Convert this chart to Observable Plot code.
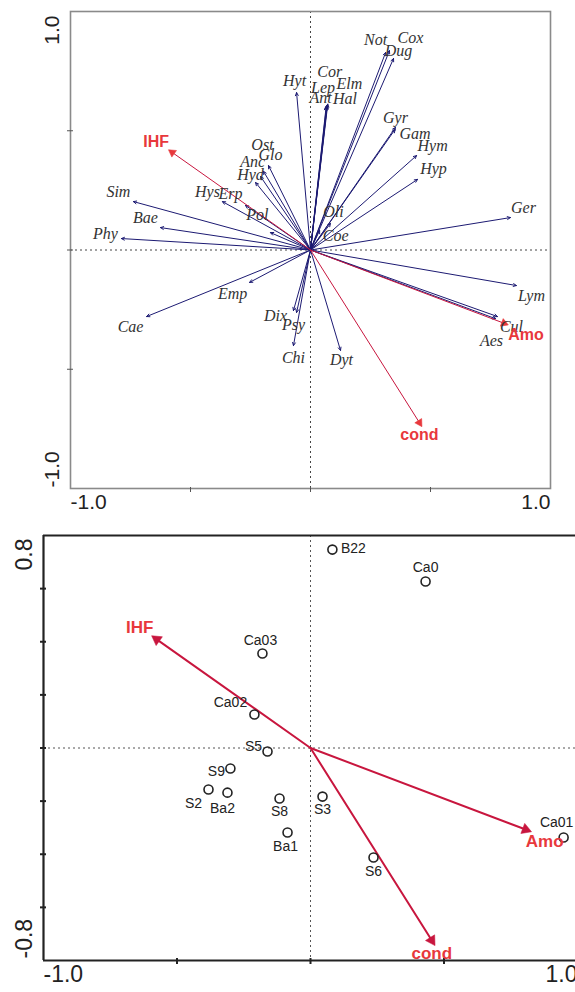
<!DOCTYPE html>
<html><head><meta charset="utf-8">
<script src="https://cdn.jsdelivr.net/npm/d3@7"></script>
<script src="https://cdn.jsdelivr.net/npm/@observablehq/plot@0.6"></script>
<style>
body{margin:0;background:#fff;}
#chart{width:575px;}
#chart svg{display:block;overflow:visible;}
</style></head><body><div id="chart"></div>
<script>
// ---- Data: species scores (top biplot) ----
const speciesNames = ["Sim","Bae","Phy","Hys","Erp","Pol","Hyd","Anc","Ost","Glo","Hyt","Ant","Cor","Lep","Elm","Hal","Not","Cox","Dug","Gyr","Gam","Hym","Hyp","Ger","Oli","Coe","Emp","Cae","Dix","Psy","Chi","Dyt","Lym","Cul","Aes"];
const speciesX = [-0.738,-0.625,-0.788,-0.367,-0.271,-0.167,-0.229,-0.208,-0.196,-0.175,-0.058,0.067,0.072,0.065,0.070,0.069,0.313,0.329,0.346,0.354,0.352,0.442,0.446,0.833,0.083,0.038,-0.254,-0.683,-0.071,-0.058,-0.071,0.125,0.858,0.779,0.771];
const speciesY = [0.203,0.094,0.048,0.203,0.187,0.073,0.283,0.308,0.330,0.354,0.660,0.606,0.612,0.600,0.608,0.603,0.828,0.836,0.803,0.514,0.505,0.396,0.296,0.136,0.111,0.082,-0.136,-0.279,-0.254,-0.262,-0.401,-0.421,-0.149,-0.279,-0.288];

// ---- Data: environmental variables (both panels) ----
const envNames = ["IHF","Amo","cond"];
const envX = [-0.576, 0.806, 0.454];
const envY = [0.409, -0.307, -0.724];

// ---- Data: site scores (bottom panel) ----
const siteNames = ["B22","Ca0","Ca03","Ca02","S5","S9","S2","Ba2","S8","Ba1","S3","S6","Ca01"];
const siteX = [0.082,0.431,-0.180,-0.210,-0.161,-0.300,-0.382,-0.311,-0.116,-0.086,0.045,0.236,0.948];
const siteY = [0.747,0.627,0.356,0.126,-0.013,-0.077,-0.156,-0.168,-0.190,-0.318,-0.183,-0.412,-0.337];

// ---- Tick labels ----
const topXTickValues = [-1, 1];
const topXTickLabels = ["-1.0", "1.0"];
const topYTickValues = [1, -1];
const topYTickLabels = ["1.0", "-1.0"];
const topTicks = [-0.5, 0, 0.5];
const botXTickValues = [-1, 1];
const botXTickLabels = ["-1.0", "1.0"];
const botYTickValues = [0.8, -0.8];
const botYTickLabels = ["0.8", "-0.8"];
const botXTicks = [-0.5, 0, 0.5];
const botYTicks = [-0.6, -0.4, -0.2, 0, 0.2, 0.4, 0.6];

// ---- Layout: label nudges (pixels) ----
const speciesNudge = {
  Sim:[-15,-10], Bae:[-15,-10], Phy:[-16,-5], Hys:[-15,-10], Erp:[-15,-12], Pol:[-13,-18],
  Hyd:[-5,-8], Anc:[-8,-15], Ost:[-1,-26], Glo:[2,-11], Hyt:[-2,-12], Ant:[-6,-8],
  Cor:[2,-32], Lep:[-3,-19], Elm:[22,-21], Hal:[18,-7], Not:[-10,-13], Cox:[21,-13],
  Dug:[5,-8], Gyr:[0,-10], Gam:[20,4], Hym:[16,-10], Hyp:[16,-11], Ger:[13,-10],
  Oli:[3,-12], Coe:[16,5], Emp:[-17,11], Cae:[-16,10], Dix:[-18,5], Psy:[-3,12],
  Chi:[0,12], Dyt:[1,9], Lym:[15,10], Cul:[14,10], Aes:[-4,22]
};
const envNudgeTop = {IHF:[-16,-11], Amo:[22,12], cond:[0,12]};
const envNudgeBot = {IHF:[-17,-12], Amo:[19,12], cond:[0,13]};
const siteNudge = {
  B22:[21,-1], Ca0:[0,-14], Ca03:[-2,-13], Ca02:[-24,-12], S5:[-14,-5], S9:[-14,3],
  S2:[-15,14], Ba2:[-5,16], S8:[0,13], Ba1:[-2,14], S3:[0,13], S6:[0,14], Ca01:[-7,-15]
};

const species = speciesNames.map((n,i)=>({name:n, x:speciesX[i], y:speciesY[i]}));
const env = envNames.map((n,i)=>({name:n, x:envX[i], y:envY[i], rot: Math.atan2(envX[i], envY[i])*180/Math.PI}));
const sites = siteNames.map((n,i)=>({name:n, x:siteX[i], y:siteY[i]}));

const NAVY = "#1c1a72";
const CRIMSON = "#c8163e";
const RED = "#e8383c";
const SANS = "Liberation Sans, Arial, sans-serif";
const SERIF = "Liberation Serif, Times New Roman, serif";

// ---------- TOP PANEL ----------
const topMarks = [
  Plot.ruleX([0], {stroke:"#444", strokeDasharray:"2,3", strokeWidth:1}),
  Plot.ruleY([0], {stroke:"#444", strokeDasharray:"2,3", strokeWidth:1}),
  Plot.frame({stroke:"#8a8a8a", strokeWidth:1.6}),
  Plot.axisX({ticks: topTicks, tickSize:5, dy:-1, tickFormat:()=>"", stroke:"#555", label:null}),
  Plot.axisY({ticks: topTicks, tickSize:6, dx:3, tickFormat:()=>"", stroke:"#555", label:null}),
  Plot.arrow(species, {x1:0, y1:0, x2:"x", y2:"y", stroke:NAVY, strokeWidth:1, headLength:5, headAngle:50}),
  Plot.arrow(env, {x1:0, y1:0, x2:"x", y2:"y", stroke:CRIMSON, strokeWidth:1, headLength:0}),
  Plot.dot(env, {x:"x", y:"y", symbol:"triangle", r:3, fill:RED, stroke:RED, strokeWidth:0.5, rotate:"rot"}),
  ...species.map(d => Plot.text([d], {x:"x", y:"y", text:"name", dx:speciesNudge[d.name][0], dy:speciesNudge[d.name][1],
      fontFamily:SERIF, fontStyle:"italic", fontSize:16, fill:"#333"})),
  ...env.map(d => Plot.text([d], {x:"x", y:"y", text:"name", dx:envNudgeTop[d.name][0], dy:envNudgeTop[d.name][1],
      fontFamily:SANS, fontWeight:"bold", fontSize:16, fill:RED})),
  Plot.text([topXTickValues[0]], {x:d=>d, frameAnchor:"bottom", dy:20, text:[topXTickLabels[0]], textAnchor:"start", fontFamily:SANS, fontSize:21, fill:"#222"}),
  Plot.text([topXTickValues[1]], {x:d=>d, frameAnchor:"bottom", dy:20, text:[topXTickLabels[1]], textAnchor:"end", fontFamily:SANS, fontSize:21, fill:"#222"}),
  Plot.text([topYTickValues[0]], {y:d=>d, frameAnchor:"left", dx:-18, dy:4, text:[topYTickLabels[0]], rotate:-90, textAnchor:"end", fontFamily:SANS, fontSize:21, fill:"#222"}),
  Plot.text([topYTickValues[1]], {y:d=>d, frameAnchor:"left", dx:-18, dy:-1, text:[topYTickLabels[1]], rotate:-90, textAnchor:"start", fontFamily:SANS, fontSize:21, fill:"#222"})
];

const topPlot = Plot.plot({
  width:575, height:520,
  marginLeft:70, marginRight:25, marginTop:11, marginBottom:32,
  x:{domain:[-1,1], axis:null},
  y:{domain:[-1,1], axis:null},
  style:{background:"#fff", overflow:"visible"},
  marks: topMarks
});

// ---------- BOTTOM PANEL ----------
const botMarks = [
  Plot.ruleX([0], {stroke:"#555", strokeDasharray:"2,3", strokeWidth:1}),
  Plot.ruleY([0], {stroke:"#555", strokeDasharray:"2,3", strokeWidth:1}),
  Plot.ruleY([botYTickValues[0]], {stroke:"#222", strokeWidth:2.2}),
  Plot.ruleY([botYTickValues[1]], {stroke:"#222", strokeWidth:2.2}),
  Plot.ruleX([botXTickValues[0]], {stroke:"#222", strokeWidth:2.2}),
  Plot.axisX({ticks: botXTicks, tickSize:6, dy:-2, tickFormat:()=>"", stroke:"#222", strokeWidth:2, label:null}),
  Plot.axisY({ticks: botYTicks, tickSize:6, dx:3, tickFormat:()=>"", stroke:"#222", strokeWidth:2, label:null}),
  Plot.arrow(env, {x1:0, y1:0, x2:"x", y2:"y", stroke:CRIMSON, strokeWidth:2, headLength:0}),
  Plot.dot(env, {x:"x", y:"y", symbol:"triangle", r:4, fill:CRIMSON, stroke:CRIMSON, strokeWidth:0.5, rotate:"rot"}),
  Plot.dot(sites, {x:"x", y:"y", r:4.5, stroke:"#222", strokeWidth:1.6, fill:"none"}),
  ...sites.map(d => Plot.text([d], {x:"x", y:"y", text:"name", dx:siteNudge[d.name][0], dy:siteNudge[d.name][1],
      fontFamily:SANS, fontSize:14, fill:"#222"})),
  ...env.map(d => Plot.text([d], {x:"x", y:"y", text:"name", dx:envNudgeBot[d.name][0], dy:envNudgeBot[d.name][1],
      fontFamily:SANS, fontWeight:"bold", fontSize:17, fill:RED})),
  Plot.text([botXTickValues[0]], {x:d=>d, frameAnchor:"bottom", dy:21, text:[botXTickLabels[0]], textAnchor:"start", fontFamily:SANS, fontSize:23, fill:"#222"}),
  Plot.text([botXTickValues[1]], {x:d=>d, frameAnchor:"bottom", dy:21, text:[botXTickLabels[1]], textAnchor:"end", fontFamily:SANS, fontSize:23, fill:"#222"}),
  Plot.text([botYTickValues[0]], {y:d=>d, frameAnchor:"left", dx:-19, dy:3, text:[botYTickLabels[0]], rotate:-90, textAnchor:"end", fontFamily:SANS, fontSize:23, fill:"#222"}),
  Plot.text([botYTickValues[1]], {y:d=>d, frameAnchor:"left", dx:-19, dy:-2, text:[botYTickLabels[1]], rotate:-90, textAnchor:"start", fontFamily:SANS, fontSize:23, fill:"#222"})
];

const bottomPlot = Plot.plot({
  width:575, height:472,
  marginLeft:43, marginRight:0, marginTop:15, marginBottom:32,
  x:{domain:[-1, 0.9925], axis:null},
  y:{domain:[-0.8, 0.8], axis:null},
  style:{background:"#fff", overflow:"visible"},
  marks: botMarks
});

const el = document.getElementById("chart");
el.appendChild(topPlot);
el.appendChild(bottomPlot);
</script>
</body></html>
